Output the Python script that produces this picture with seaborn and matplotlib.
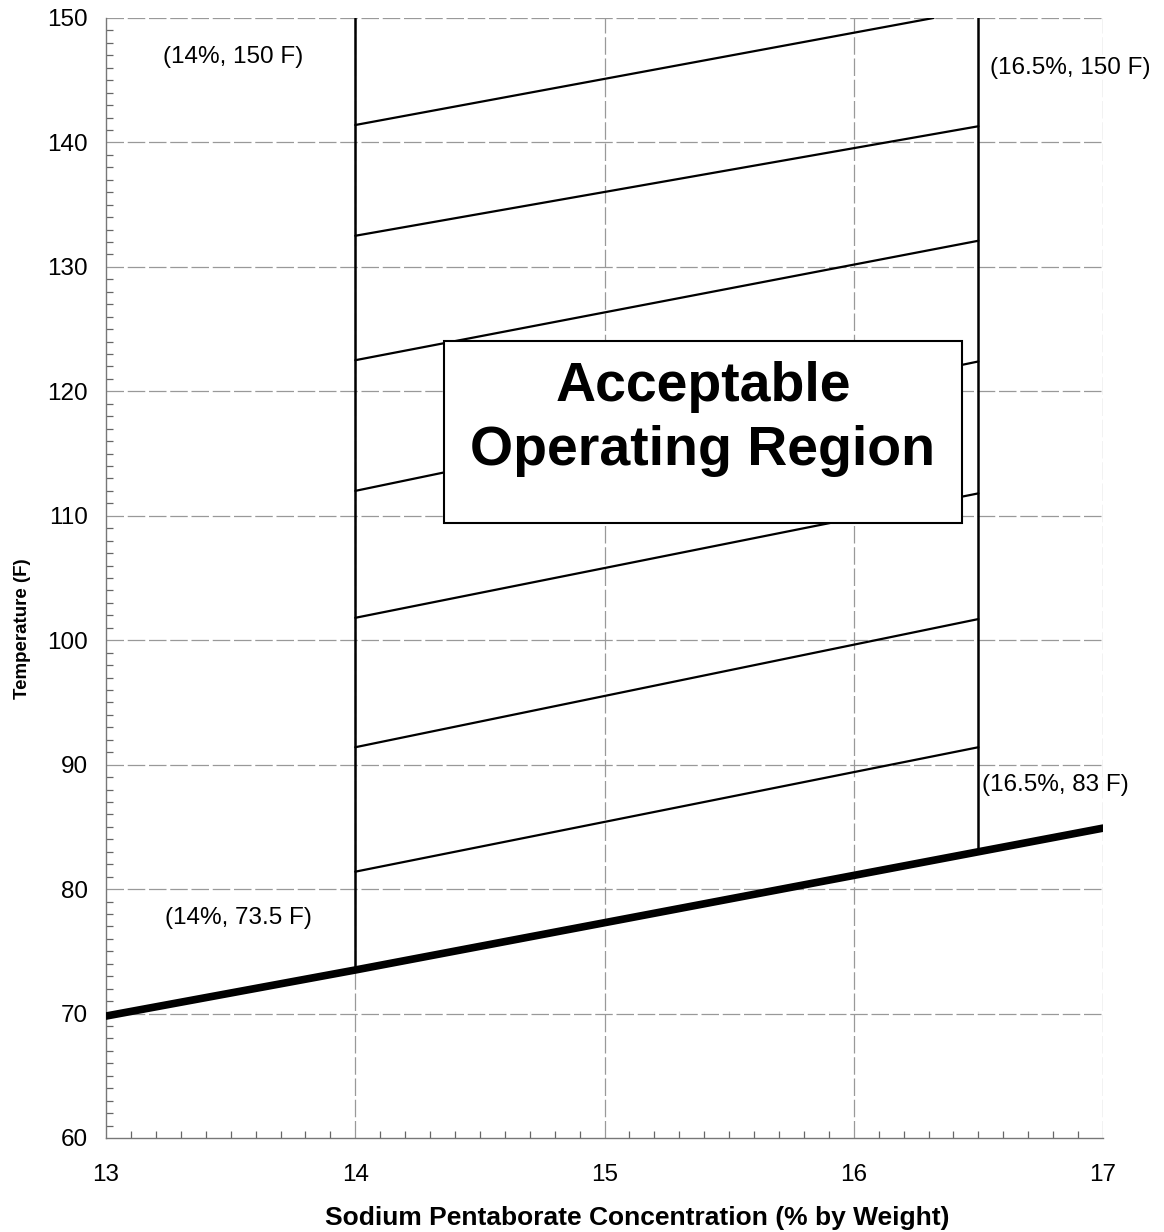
import numpy as np
import pandas as pd
import matplotlib
matplotlib.use('Agg')
import matplotlib.pyplot as plt
import seaborn as sns
from matplotlib.patches import Rectangle
from matplotlib.ticker import MultipleLocator

# Dados
limite_x = [13, 14, 16.5, 17]
limite_y = [69.8, 73.5, 83.0, 84.9]

# Linhas verticais que limitam a região
vert_x = [14, 16.5]
vert_y0 = [73.5, 83.0]
vert_y1 = [150, 150]

# Hachuras: início em 14% e fim em x_fim
hach_y_ini = [81.4, 91.4, 101.8, 112.0, 122.5, 132.5, 141.4]
hach_x_fim = [16.5, 16.5, 16.5, 16.5, 16.5, 16.5, 16.32]
hach_y_fim = [91.4, 101.7, 111.8, 122.4, 132.1, 141.3, 150.0]

sns.set_style('white')
plt.rcParams['font.family'] = ['Liberation Sans', 'DejaVu Sans']
plt.rcParams['text.color'] = 'black'
plt.rcParams['axes.labelcolor'] = 'black'
plt.rcParams['xtick.color'] = 'black'
plt.rcParams['ytick.color'] = 'black'

fig = plt.figure(figsize=(11.64, 12.32), dpi=100)
ax = fig.add_axes([0.0911, 0.0763, 0.8565, 0.9091])

# Grade tracejada cinza
for v in range(14, 18):
    ax.axvline(v, color='#999999', lw=0.9, ls=(0, (14, 3)), zorder=1)
for v in range(70, 151, 10):
    ax.axhline(v, color='#999999', lw=0.9, ls=(0, (14, 3)), zorder=1)

# Hachuras
df_h = pd.DataFrame({
    'x': [14] * len(hach_y_ini) + hach_x_fim,
    'y': hach_y_ini + hach_y_fim,
    'seg': list(range(len(hach_y_ini))) * 2,
})
sns.lineplot(data=df_h, x='x', y='y', units='seg', estimator=None, sort=False,
             color='black', lw=1.6, ax=ax, zorder=3)

# Verticais
df_v = pd.DataFrame({'x': vert_x + vert_x, 'y': vert_y0 + vert_y1, 'seg': [0, 1, 0, 1]})
sns.lineplot(data=df_v, x='x', y='y', units='seg', estimator=None, sort=False,
             color='black', lw=1.8, ax=ax, zorder=3)

# Linha limite (grossa)
sns.lineplot(x=limite_x, y=limite_y, color='black', lw=5.5, ax=ax, zorder=4)

# Caixa de texto
ax.add_patch(Rectangle((14.356, 109.4), 2.078, 14.65, facecolor='white',
                       edgecolor='black', lw=1.5, zorder=5))
ax.text(15.395, 117.8, 'Acceptable\nOperating Region', ha='center', va='center',
        fontsize=40, fontweight='bold', linespacing=1.3, zorder=6)

# Anotações dos pontos
ax.text(13.51, 146.9, '(14%, 150 F)', ha='center', va='center', fontsize=17.5)
ax.text(16.87, 146.0, '(16.5%, 150 F)', ha='center', va='center', fontsize=17.5, clip_on=False)
ax.text(16.81, 88.4, '(16.5%, 83 F)', ha='center', va='center', fontsize=17.5, clip_on=False)
ax.text(13.53, 77.7, '(14%, 73.5 F)', ha='center', va='center', fontsize=17.5)

ax.set_xlim(13, 17)
ax.set_ylim(60, 150)
ax.xaxis.set_major_locator(MultipleLocator(1))
ax.xaxis.set_minor_locator(MultipleLocator(0.1))
ax.yaxis.set_major_locator(MultipleLocator(10))
ax.yaxis.set_minor_locator(MultipleLocator(1))
ax.tick_params(which='major', direction='out', length=8, width=0.9, color='#666666',
               labelsize=17.5, pad=5)
ax.tick_params(which='minor', direction='in', length=5, width=0.9, color='#666666')
ax.tick_params(axis='x', which='major', pad=11)
ax.tick_params(axis='x', which='minor', bottom=True)
ax.tick_params(axis='y', which='minor', left=True)

for s in ['top', 'right']:
    ax.spines[s].set_visible(False)
for s in ['left', 'bottom']:
    ax.spines[s].set_color('#777777')
    ax.spines[s].set_linewidth(1.0)

ax.set_xlabel('Sodium Pentaborate Concentration (% by Weight)', fontsize=19,
              fontweight='bold', va='center')
ax.xaxis.set_label_coords(0.533, -0.0715)
ax.set_ylabel('Temperature (F)', fontsize=13.5, fontweight='bold')
ax.yaxis.set_label_coords(-0.075, 0.455)

plt.savefig('out.png', dpi=100)
